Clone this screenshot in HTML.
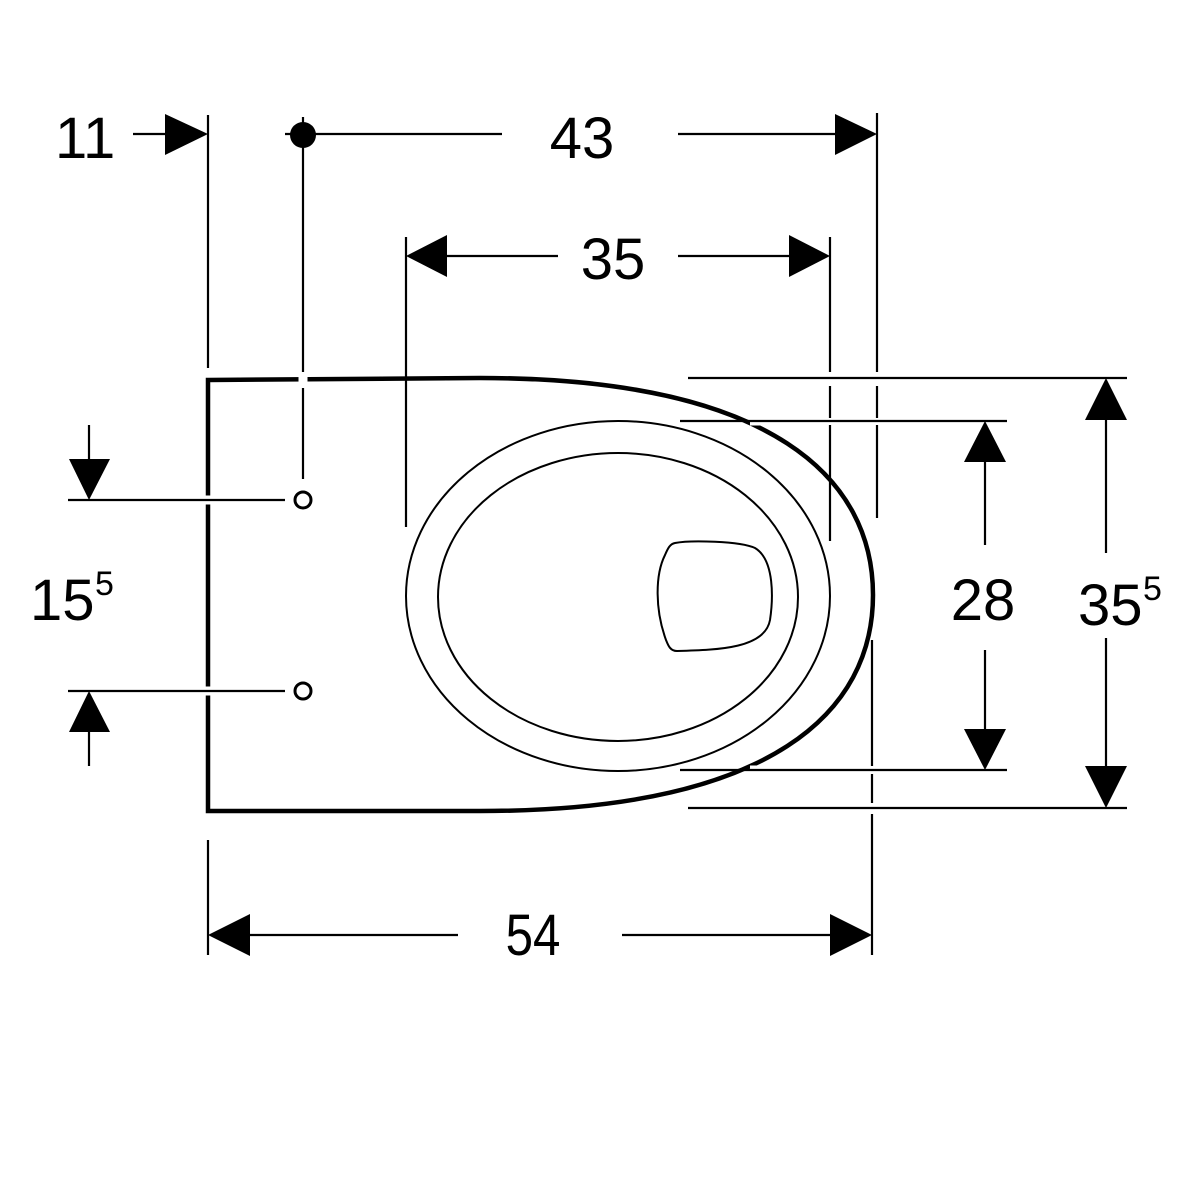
<!DOCTYPE html>
<html><head><meta charset="utf-8"><style>html,body{margin:0;padding:0;background:#fff}svg{display:block}text{font-family:"Liberation Sans",sans-serif;fill:#000}</style></head>
<body>
<svg width="1200" height="1200" viewBox="0 0 1200 1200" xmlns="http://www.w3.org/2000/svg">
<rect width="1200" height="1200" fill="#fff"/>
<path d="M208,380 L480,378 C775,378 873,480 873,595 C873,710 775,811 480,811 L208,811 Z" fill="none" stroke="#000" stroke-width="4.5"/>
<ellipse cx="618" cy="596" rx="212" ry="175" fill="none" stroke="#000" stroke-width="2"/>
<ellipse cx="618" cy="597" rx="180" ry="144" fill="none" stroke="#000" stroke-width="2"/>
<path d="M675,543 C690,540 740,541 755,548 C775,560 773,600 770,620 C765,648 720,650 677,651 C670,651 668,645 666,640 C655,610 655,575 665,555 C668,548 670,544 675,543 Z" fill="none" stroke="#000" stroke-width="2"/>
<g stroke="#fff" stroke-width="9" fill="none">
<line x1="303" y1="372" x2="303" y2="388"/>
<line x1="200" y1="500" x2="216" y2="500"/><line x1="200" y1="691" x2="216" y2="691"/>
<line x1="877" y1="372" x2="877" y2="385"/><line x1="830" y1="372" x2="830" y2="385"/>
<line x1="872" y1="803" x2="872" y2="814"/>
<line x1="750" y1="421" x2="800" y2="421"/><line x1="750" y1="770" x2="800" y2="770"/>
<line x1="830" y1="455" x2="830" y2="470"/>
<line x1="877" y1="505" x2="877" y2="522"/>
</g>
<g stroke="#000" stroke-width="2.2" fill="none">
<line x1="208" y1="115" x2="208" y2="368"/>
<line x1="133" y1="134" x2="170" y2="134"/>
<line x1="285" y1="134" x2="502" y2="134"/>
<line x1="678" y1="134" x2="840" y2="134"/>
<line x1="877" y1="113" x2="877" y2="372"/><line x1="877" y1="386" x2="877" y2="418"/><line x1="877" y1="425" x2="877" y2="518"/>
<line x1="303" y1="117" x2="303" y2="372"/><line x1="303" y1="388" x2="303" y2="479"/>
<line x1="406" y1="237" x2="406" y2="527"/>
<line x1="830" y1="237" x2="830" y2="372"/><line x1="830" y1="386" x2="830" y2="418"/><line x1="830" y1="425" x2="830" y2="541"/>
<line x1="446" y1="256" x2="558" y2="256"/><line x1="678" y1="256" x2="792" y2="256"/>
<line x1="688" y1="378" x2="1127" y2="378"/>
<line x1="680" y1="421" x2="1007" y2="421"/>
<line x1="680" y1="770" x2="1007" y2="770"/>
<line x1="688" y1="808" x2="1127" y2="808"/>
<line x1="985" y1="460" x2="985" y2="545"/><line x1="985" y1="650" x2="985" y2="730"/>
<line x1="1106" y1="418" x2="1106" y2="553"/><line x1="1106" y1="638" x2="1106" y2="768"/>
<line x1="68" y1="500" x2="285" y2="500"/><line x1="68" y1="691" x2="285" y2="691"/>
<line x1="89" y1="425" x2="89" y2="462"/><line x1="89" y1="730" x2="89" y2="766"/>
<line x1="208" y1="840" x2="208" y2="955"/>
<line x1="872" y1="640" x2="872" y2="766"/><line x1="872" y1="774" x2="872" y2="803"/><line x1="872" y1="814" x2="872" y2="955"/>
<line x1="248" y1="935" x2="458" y2="935"/><line x1="622" y1="935" x2="832" y2="935"/>
</g>
<circle cx="303" cy="500" r="8" fill="#fff" stroke="#000" stroke-width="3"/>
<circle cx="303" cy="691" r="8" fill="#fff" stroke="#000" stroke-width="3"/>
<circle cx="303" cy="135" r="13" fill="#000"/>
<g fill="#000">
<polygon points="208,134 165,114 165,155"/>
<polygon points="877,134 835,114 835,155"/>
<polygon points="406,256 447,235 447,277"/>
<polygon points="830,256 789,235 789,277"/>
<polygon points="985,421 964,462 1006,462"/>
<polygon points="985,770 964,729 1006,729"/>
<polygon points="1106,378 1085,420 1127,420"/>
<polygon points="1106,808 1085,766 1127,766"/>
<polygon points="89,500 69,459 110,459"/>
<polygon points="89,691 69,732 110,732"/>
<polygon points="208,935 250,914 250,956"/>
<polygon points="872,935 830,914 830,956"/>
</g>
<g font-size="58">
<text x="55" y="158">11</text>
<text x="582" y="158" text-anchor="middle">43</text>
<text x="613" y="279" text-anchor="middle">35</text>
<text x="983" y="620" text-anchor="middle">28</text>
<text x="1078" y="625">35</text><text x="1143" y="600" font-size="34">5</text>
<text x="30" y="620">15</text><text x="95" y="595" font-size="34">5</text>
<text x="533" y="955" text-anchor="middle" transform="translate(533,0) scale(0.85,1) translate(-533,0)">54</text>
</g>
</svg>
</body></html>
